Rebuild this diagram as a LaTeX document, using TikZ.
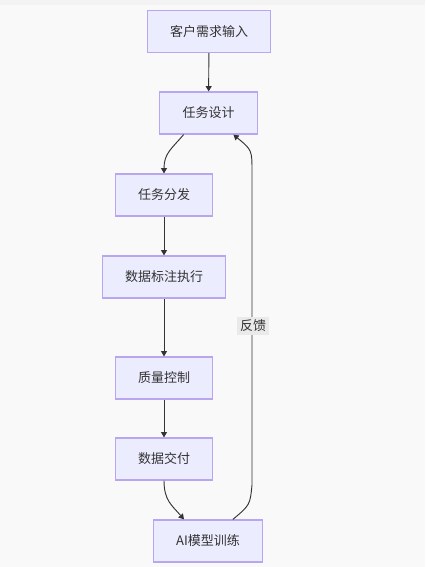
\documentclass[tikz,border=0pt]{standalone}
\usepackage{fontspec}
\setmainfont{Noto Sans CJK SC}
\usetikzlibrary{arrows.meta,positioning}
\definecolor{boxF}{RGB}{236,236,255}
\definecolor{boxD}{RGB}{186,166,240}
\definecolor{lineC}{RGB}{51,51,51}
\definecolor{bgC}{RGB}{249,249,249}
\definecolor{topC}{RGB}{243,243,243}
\definecolor{lblC}{RGB}{234,234,234}

\begin{document}
\begin{tikzpicture}[x=0.75pt,y=-0.75pt,>={Triangle[length=4pt,width=4.5pt]},
  box/.style={draw=boxD,fill=boxF,line width=0.9pt,minimum height=31.5pt,inner xsep=17pt,
    text=lineC,font=\fontsize{9.75}{12}\selectfont},
  edge/.style={draw=lineC,line width=0.7pt,->},
  lbl/.style={fill=lblC,text=lineC,inner sep=2pt,font=\fontsize{9.75}{12}\selectfont}]
\fill[bgC] (0,0) rectangle (425,567); \fill[topC] (0,0) rectangle (425,5);
\useasboundingbox (0,0) rectangle (425,567);
% nodes
\node[box] (need) at (209,31.5) {客户需求输入};
\node[box] (design) at (208.5,113) {任务设计};
\node[box] (split) at (164,195) {任务分发};
\node[box] (label) at (164,277) {数据标注执行};
\node[box] (check) at (164,378) {质量控制};
\node[box] (deliver) at (164,459) {数据交付};
\node[box] (train) at (208,541) {AI模型训练};
% edges
\draw[edge] (design.221) .. controls +(-12,14) and +(0,-20) .. (split.north);
\draw[edge] (need) -- (design);
\draw[edge] (split) -- (label);
\draw[edge] (label) -- (check);
\draw[edge] (check) -- (deliver);
\draw[edge] (deliver.south) .. controls +(0,20) and +(-12,-14) .. (train.138);
\draw[edge] (train.41) .. controls (250,505) .. (252,485) -- (252,172) .. controls (252,150) .. (design.319);
\node[lbl] (fb) at (253,326) {反馈};
\end{tikzpicture}
\end{document}
